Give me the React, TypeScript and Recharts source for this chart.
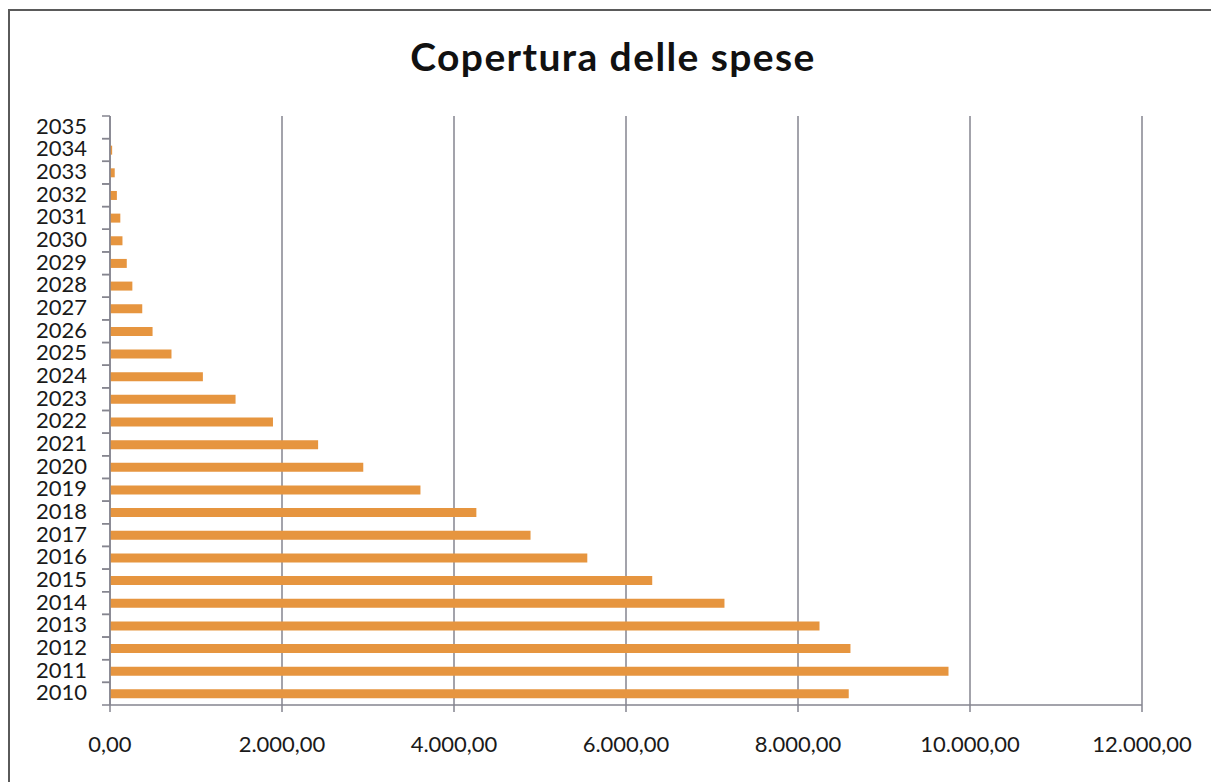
import React from "react";
import { BarChart, Bar, XAxis, YAxis, CartesianGrid } from "recharts";

const years = [
  "2010", "2011", "2012", "2013", "2014", "2015", "2016", "2017", "2018",
  "2019", "2020", "2021", "2022", "2023", "2024", "2025", "2026", "2027",
  "2028", "2029", "2030", "2031", "2032", "2033", "2034", "2035",
];
const values = [
  8590, 9750, 8610, 8250, 7145, 6305, 5550, 4890, 4260,
  3610, 2945, 2420, 1895, 1460, 1080, 715, 495, 375,
  260, 195, 145, 120, 80, 55, 25, 0,
];
const xTicks = [0, 2000, 4000, 6000, 8000, 10000, 12000];
const title = "Copertura delle spese";

const data = years.map((y, i) => ({ year: y, value: values[i] }));

const W = 1211;
const H = 782;
const TOP = 116;
const AXIS_X = 110;
const AXIS_Y = 705;
const RIGHT = 69;
const BAND = (AXIS_Y - TOP) / years.length;
const FONT = "Lato, 'Open Sans', sans-serif";
const GRID = "#85858f";

const fmt = (v: number) => {
  const s = Math.round(v).toString().replace(/\B(?=(\d{3})+(?!\d))/g, ".");
  return s + ",00";
};

const YTick = (props: any) => {
  const { y, payload } = props;
  return (
    <g>
      <text
        x={AXIS_X - 23}
        y={y + 6.5}
        textAnchor="end"
        fontSize={22}
        fontFamily={FONT}
        fill="#1a1a1a"
      >
        {payload.value}
      </text>
      <line x1={AXIS_X - 8} x2={AXIS_X} y1={y - BAND / 2} y2={y - BAND / 2} stroke={GRID} strokeWidth={1.5} />
      <line x1={AXIS_X - 8} x2={AXIS_X} y1={y + BAND / 2} y2={y + BAND / 2} stroke={GRID} strokeWidth={1.5} />
    </g>
  );
};

export default function App() {
  return (
    <div
      style={{
        position: "absolute",
        left: 0,
        top: 0,
        width: W,
        height: H,
        overflow: "hidden",
        background: "#fff",
      }}
    >
      <div
        style={{
          position: "absolute",
          left: 8,
          top: 9,
          width: 1400,
          height: 1000,
          border: "2px solid #5a5a5a",
        }}
      />
      <svg width={W} height={110} style={{ position: "absolute", left: 0, top: 0 }}>
        <text
          x={613}
          y={71}
          textAnchor="middle"
          fontSize={39}
          fontWeight={700}
          letterSpacing={1.4}
          fontFamily={FONT}
          fill="#111"
        >
          {title}
        </text>
      </svg>
      <div style={{ position: "absolute", left: 0, top: 0 }}>
        <BarChart
          width={W}
          height={H}
          data={data}
          layout="vertical"
          margin={{ top: TOP, right: RIGHT, left: 10, bottom: H - AXIS_Y - 60 }}
        >
          <CartesianGrid horizontal={false} vertical={true} stroke={GRID} strokeWidth={1.5} />
          <XAxis
            type="number"
            domain={[0, 12000]}
            ticks={xTicks}
            tickFormatter={fmt}
            height={60}
            tickSize={7}
            tickMargin={24}
            axisLine={{ stroke: GRID, strokeWidth: 1.5 }}
            tickLine={{ stroke: GRID, strokeWidth: 1.5 }}
            tick={{ fontSize: 22, fontFamily: FONT, fill: "#1a1a1a" }}
            interval={0}
          />
          <YAxis
            type="category"
            dataKey="year"
            reversed
            width={100}
            interval={0}
            tickLine={false}
            axisLine={{ stroke: GRID, strokeWidth: 1.5 }}
            tick={<YTick />}
          />
          <Bar dataKey="value" fill="#E6953F" barSize={9} isAnimationActive={false} />
        </BarChart>
      </div>
    </div>
  );
}
